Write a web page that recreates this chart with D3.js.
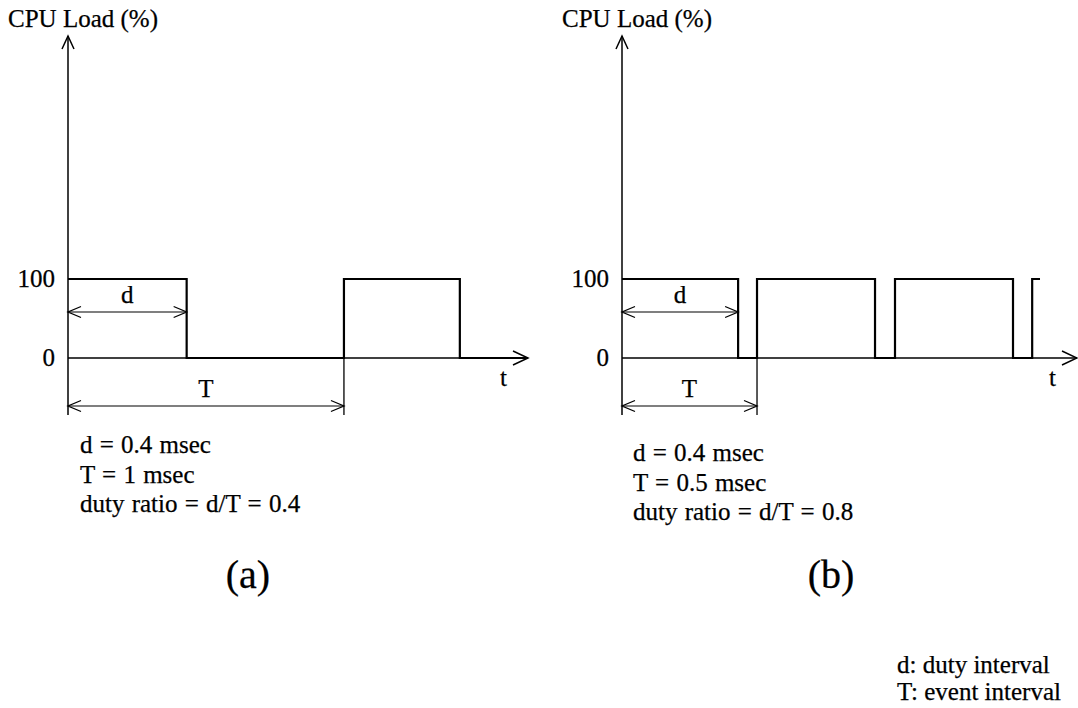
<!DOCTYPE html>
<html>
<head>
<meta charset="utf-8">
<script src="https://cdn.jsdelivr.net/npm/d3@7"></script>
<style>
  body { margin: 0; background: #fff; }
  svg { display: block; }
  text { font-family: "Liberation Serif", "Times New Roman", serif; fill: #000; stroke: #000; stroke-width: 0.25; }
</style>
</head>
<body>
<svg width="1078" height="708"></svg>
<script>
(function (d3) {
  "use strict";

  // waveform breakpoints (msec) and CPU load (%) after each breakpoint
  const timesA = [0, 0.43, 1.0, 1.42, 1.667];
  const loadA = [100, 0, 100, 0, 0];
  const timesB = [0, 0.43, 0.5, 0.937, 1.011, 1.448, 1.519, 1.548];
  const loadB = [100, 0, 100, 0, 100, 0, 100, 100];

  const axisEndA = 1.667;
  const axisEndB = 1.685;
  const dutyA = 0.43; // d as drawn
  const periodA = 1.0; // T as drawn
  const dutyB = 0.43;
  const periodB = 0.5;

  const yTicks = [0, 100];
  const yLabel = "CPU Load (%)";
  const notesA = ["d = 0.4 msec", "T = 1 msec", "duty ratio = d/T = 0.4"];
  const notesB = ["d = 0.4 msec", "T = 0.5 msec", "duty ratio = d/T = 0.8"];
  const legend = ["d: duty interval", "T: event interval"];

  const svg = d3.select("svg");

  const y = d3.scaleLinear().domain([0, 100]).range([358, 279]);
  const yTop = 36;
  const yBottom = 415;
  const dY = 312;
  const tY = 406;
  const fs = 25;

  const chevron = (x, yy, dir, len, half) => {
    // open arrowhead, dir: "left" | "right" | "up"
    if (dir === "up") return `M${x - half},${yy + len}L${x},${yy}L${x + half},${yy + len}`;
    const s = dir === "right" ? -1 : 1;
    return `M${x + s * len},${yy - half}L${x},${yy}L${x + s * len},${yy + half}`;
  };

  const panel = (opts) => {
    const { times, load, axisEnd, duty, period, x0, x1, notes, noteX, noteY, tag, tagX } = opts;
    const x = d3.scaleLinear().domain([0, axisEnd]).range([x0, x1]);
    const g = svg.append("g");
    const data = times.map((t, i) => ({ t, v: load[i] }));

    // axes
    g.append("line")
      .attr("x1", x(0)).attr("x2", x(0))
      .attr("y1", yTop).attr("y2", yBottom)
      .attr("stroke", "#000").attr("stroke-width", 1.5);
    g.append("path")
      .attr("d", chevron(x(0), yTop, "up", 13, 6))
      .attr("fill", "none").attr("stroke", "#000").attr("stroke-width", 1.5);
    g.append("line")
      .attr("x1", x(0)).attr("x2", x(axisEnd))
      .attr("y1", y(0)).attr("y2", y(0))
      .attr("stroke", "#000").attr("stroke-width", 1.5);
    g.append("path")
      .attr("d", chevron(x(axisEnd), y(0), "right", 15, 7))
      .attr("fill", "none").attr("stroke", "#000").attr("stroke-width", 1.5);

    g.append("text")
      .attr("x", x0 - 60).attr("y", 27)
      .attr("font-size", fs)
      .text(yLabel);

    g.selectAll(".tick-label")
      .data(yTicks)
      .enter()
      .append("text")
      .attr("class", "tick-label")
      .attr("x", x0 - 13)
      .attr("y", (d) => y(d) + 8)
      .attr("text-anchor", "end")
      .attr("font-size", fs)
      .text((d) => d);

    g.append("text")
      .attr("x", x(axisEnd) - 28).attr("y", 386)
      .attr("font-size", fs)
      .text("t");

    // waveform
    const line = d3.line()
      .x((d) => x(d.t))
      .y((d) => y(d.v))
      .curve(d3.curveStepAfter);
    g.append("path")
      .datum(data)
      .attr("d", line)
      .attr("fill", "none")
      .attr("stroke", "#000")
      .attr("stroke-width", 2.2);

    // T boundary line
    g.append("line")
      .attr("x1", x(period)).attr("x2", x(period))
      .attr("y1", y(0)).attr("y2", yBottom)
      .attr("stroke", "#000").attr("stroke-width", 1.3);

    // dimension arrows
    const dims = [
      { label: "d", end: duty, yy: dY, ly: dY - 9 },
      { label: "T", end: period, yy: tY, ly: tY - 9 },
    ];
    dims.forEach((dm) => {
      g.append("line")
        .attr("x1", x(0)).attr("x2", x(dm.end))
        .attr("y1", dm.yy).attr("y2", dm.yy)
        .attr("stroke", "#000").attr("stroke-width", 1.1);
      g.append("path")
        .attr("d", chevron(x(0), dm.yy, "left", 13, 5.5) + chevron(x(dm.end), dm.yy, "right", 13, 5.5))
        .attr("fill", "none").attr("stroke", "#000").attr("stroke-width", 1.3);
      g.append("text")
        .attr("x", (x(0) + x(dm.end)) / 2)
        .attr("y", dm.ly)
        .attr("text-anchor", "middle")
        .attr("font-size", fs)
        .text(dm.label);
    });

    g.selectAll(".note")
      .data(notes)
      .enter()
      .append("text")
      .attr("class", "note")
      .attr("x", noteX)
      .attr("y", (d, i) => noteY + i * 29.5)
      .attr("font-size", fs)
      .attr("word-spacing", 1)
      .text((d) => d);

    g.append("text")
      .attr("x", tagX).attr("y", 588)
      .attr("text-anchor", "middle")
      .attr("font-size", 40)
      .text(tag);
  };

  panel({
    times: timesA, load: loadA, axisEnd: axisEndA, duty: dutyA, period: periodA,
    x0: 68, x1: 528, notes: notesA, noteX: 80, noteY: 453, tag: "(a)", tagX: 248,
  });
  panel({
    times: timesB, load: loadB, axisEnd: axisEndB, duty: dutyB, period: periodB,
    x0: 622, x1: 1077, notes: notesB, noteX: 633, noteY: 461, tag: "(b)", tagX: 831,
  });

  svg.selectAll(".legend")
    .data(legend)
    .enter()
    .append("text")
    .attr("class", "legend")
    .attr("x", 897)
    .attr("y", (d, i) => 673 + i * 27)
    .attr("font-size", 25)
    .text((d) => d);
})(d3);
</script>
</body>
</html>
